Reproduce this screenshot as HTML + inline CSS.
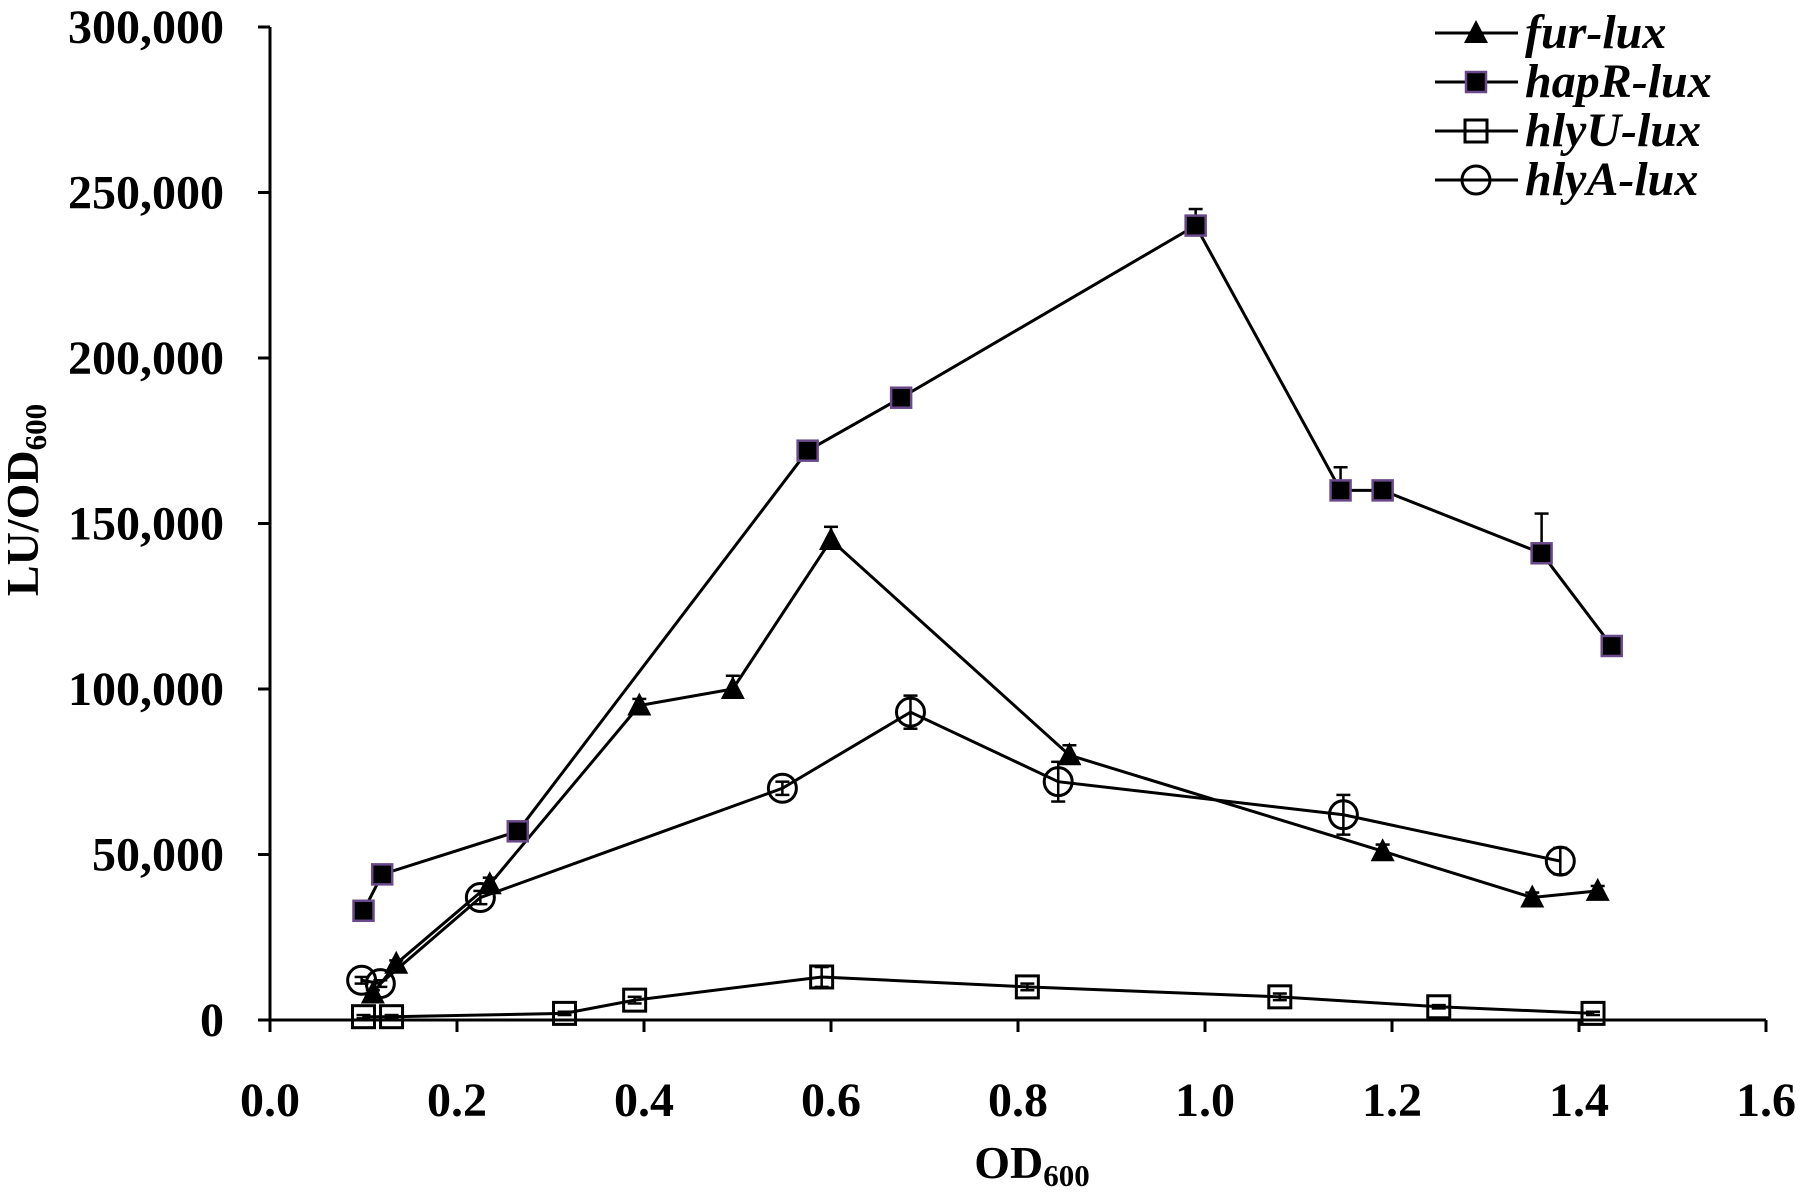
<!DOCTYPE html>
<html><head><meta charset="utf-8"><style>
html,body{margin:0;padding:0;background:#fff;}
svg{display:block;font-family:"Liberation Serif",serif;font-weight:bold;}
</style></head><body>
<svg id="chart" width="1804" height="1195" viewBox="0 0 1804 1195">
<g id="axes"></g><g id="series"></g><g id="legend"></g>
</svg>
<script>
const xTicks=[0.0,0.2,0.4,0.6,0.8,1.0,1.2,1.4,1.6];
const xTickLabels=["0.0","0.2","0.4","0.6","0.8","1.0","1.2","1.4","1.6"];
const yTicks=[0,50000,100000,150000,200000,250000,300000];
const yTickLabels=["0","50,000","100,000","150,000","200,000","250,000","300,000"];
const furX=[0.11,0.135,0.235,0.395,0.495,0.6,0.855,1.19,1.35,1.42];
const furY=[8000,17000,41000,95000,100000,145000,80000,51000,37000,39000];
const furErr=[1000,1000,2000,2000,4000,4000,3000,2000,1500,1500];
const hapX=[0.1,0.12,0.265,0.575,0.675,0.99,1.145,1.19,1.36,1.435];
const hapY=[33000,44000,57000,172000,188000,240000,160000,160000,141000,113000];
const hapErr=[1000,1000,1000,1500,1500,5000,7000,1500,12000,1500];
const hluX=[0.1,0.13,0.315,0.39,0.59,0.81,1.08,1.25,1.415];
const hluY=[1000,1000,2000,6000,13000,10000,7000,4000,2000];
const hluErr=[500,500,500,1000,3000,1000,1000,500,500];
const hlaX=[0.098,0.118,0.225,0.548,0.685,0.843,1.148,1.38];
const hlaY=[12000,11000,37000,70000,93000,72000,62000,48000];
const hlaErr=[1000,1000,2000,2000,5000,6000,6000,4000];

const NS="http://www.w3.org/2000/svg";
const X0=270,X1=1766,Y0=1020,Y1=27;
const xs=v=>X0+(v/1.6)*(X1-X0);
const ys=v=>Y0-(v/300000)*(Y0-Y1);
function mk(tag,attrs,parent){const e=document.createElementNS(NS,tag);for(const k in attrs)e.setAttribute(k,attrs[k]);parent.appendChild(e);return e;}
const axes=document.getElementById('axes');
let yl=mk('line',{x1:X0,y1:Y1,x2:X0,y2:Y0,stroke:'#000','stroke-width':3},axes);


let xl=mk('line',{x1:X0,y1:Y0,x2:X1,y2:Y0,stroke:'#000','stroke-width':3},axes);


yTicks.forEach((v,i)=>{
  mk('line',{x1:X0-12,y1:ys(v),x2:X0,y2:ys(v),stroke:'#000','stroke-width':3},axes);
  const t=mk('text',{x:224,y:ys(v)+16,'text-anchor':'end','font-size':48},axes);
  t.textContent=yTickLabels[i];
  
  
});
xTicks.forEach((v,i)=>{
  mk('line',{x1:xs(v),y1:Y0,x2:xs(v),y2:Y0+12,stroke:'#000','stroke-width':3},axes);
  const t=mk('text',{x:xs(v),y:1116,'text-anchor':'middle','font-size':48},axes);
  t.textContent=xTickLabels[i];
  
  
});
const xt=mk('text',{x:1032,y:1178,'text-anchor':'middle','font-size':46},axes);
xt.innerHTML='OD<tspan font-size="31" dy="8">600</tspan>';


const yt=mk('text',{x:0,y:0,'text-anchor':'middle','font-size':46,transform:'translate(38,500) rotate(-90)'},axes);
yt.innerHTML='LU/OD<tspan font-size="31" dy="8">600</tspan>';



function marker(type,cx,cy,g){
  if(type==='tri') return mk('polygon',{points:`${cx},${cy-13} ${cx-12},${cy+10} ${cx+12},${cy+10}`,fill:'#000'},g);
  if(type==='fsq') return mk('rect',{x:cx-10,y:cy-10,width:20,height:20,fill:'#000',stroke:'#6a4a8a','stroke-width':2.5},g);
  if(type==='osq') return mk('rect',{x:cx-11,y:cy-11,width:22,height:22,fill:'none',stroke:'#000','stroke-width':3},g);
  return mk('circle',{cx:cx,cy:cy,r:14,fill:'none',stroke:'#000','stroke-width':3},g);
}
const series=document.getElementById('series');
const defs=[
 ['fur-lux',furX,furY,furErr,'tri',false],
 ['hapR-lux',hapX,hapY,hapErr,'fsq',false],
 ['hlyU-lux',hluX,hluY,hluErr,'osq',true],
 ['hlyA-lux',hlaX,hlaY,hlaErr,'circ',true]];
defs.forEach(([name,X,Y,E,type,both])=>{
  const g=mk('g',{},series);
  
  
  const pl=mk('polyline',{points:X.map((x,i)=>xs(x)+','+ys(Y[i])).join(' '),fill:'none',stroke:'#000','stroke-width':3},g);
  
  
  X.forEach((x,i)=>{
    const cx=xs(x),cy=ys(Y[i]),top=ys(Y[i]+E[i]),bot=both?ys(Y[i]-E[i]):cy;
    mk('line',{x1:cx,y1:top,x2:cx,y2:bot,stroke:'#000','stroke-width':2.5},g);
    mk('line',{x1:cx-7,y1:top,x2:cx+7,y2:top,stroke:'#000','stroke-width':2.5},g);
    if(both) mk('line',{x1:cx-7,y1:bot,x2:cx+7,y2:bot,stroke:'#000','stroke-width':2.5},g);
    const m=marker(type,cx,cy,g);
    
    
  });
});
const legend=document.getElementById('legend');
defs.forEach(([name,,,,type],i)=>{
  const y=33+i*49;
  const g=mk('g',{},legend);
  
  
  mk('line',{x1:1435,y1:y,x2:1518,y2:y,stroke:'#000','stroke-width':3},g);
  marker(type,1476,y,g);
  const t=mk('text',{x:1525,y:y+15,'font-size':48,'font-style':'italic'},g);
  t.textContent=name;
});
</script>
</body></html>
